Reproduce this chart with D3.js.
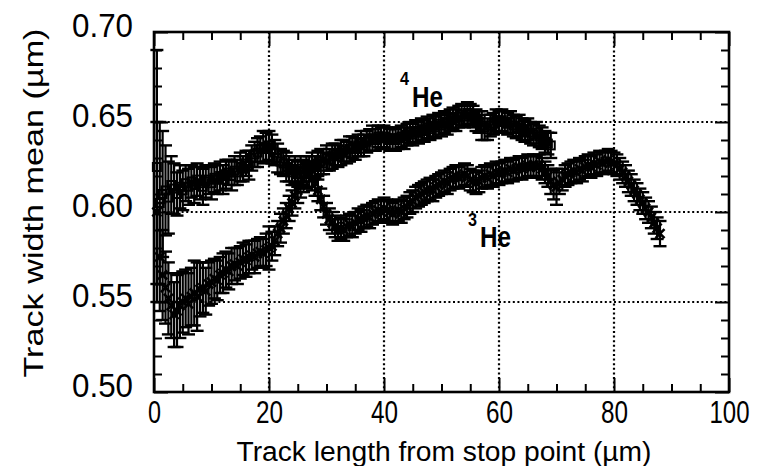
<!DOCTYPE html>
<html><head><meta charset="utf-8">
<script src="https://cdn.jsdelivr.net/npm/d3@7"></script>
<style>body{margin:0;background:#fff}svg{display:block}</style>
</head><body><svg id="c" width="770" height="466"></svg>
<script>
// ---- data ----
const trackLength = [0.5,1,1.5,2,2.5,3,3.5,4,4.5,5,5.5,6,6.5,7,7.5,8,8.5,9,9.5,10,
10.5,11,11.5,12,12.5,13,13.5,14,14.5,15,15.5,16,16.5,17,17.5,18,18.5,19,19.5,20,
20.5,21,21.5,22,22.5,23,23.5,24,24.5,25,25.5,26,26.5,27,27.5,28,28.5,29,29.5,30,
30.5,31,31.5,32,32.5,33,33.5,34,34.5,35,35.5,36,36.5,37,37.5,38,38.5,39,39.5,40,
40.5,41,41.5,42,42.5,43,43.5,44,44.5,45,45.5,46,46.5,47,47.5,48,48.5,49,49.5,50,
50.5,51,51.5,52,52.5,53,53.5,54,54.5,55,55.5,56,56.5,57,57.5,58,58.5,59,59.5,60,
60.5,61,61.5,62,62.5,63,63.5,64,64.5,65,65.5,66,66.5,67,67.5,68,68.5,69,69.5,70,
70.5,71,71.5,72,72.5,73,73.5,74,74.5,75,75.5,76,76.5,77,77.5,78,78.5,79,79.5,80,
80.5,81,81.5,82,82.5,83,83.5,84,84.5,85,85.5,86,86.5,87,87.5,88];

const he4Mean = [0.625,0.605,0.61,0.612,0.608,0.615,0.613,0.61,0.614,0.612,
0.616,0.614,0.617,0.615,0.618,0.616,0.614,0.617,0.618,0.616,
0.619,0.618,0.62,0.618,0.621,0.622,0.62,0.623,0.622,0.625,
0.624,0.627,0.626,0.63,0.632,0.633,0.635,0.636,0.636,0.637,
0.635,0.633,0.63,0.628,0.627,0.625,0.624,0.622,0.623,0.621,
0.624,0.622,0.625,0.624,0.626,0.625,0.627,0.628,0.627,0.63,
0.629,0.631,0.632,0.631,0.633,0.634,0.633,0.635,0.636,0.635,
0.637,0.638,0.637,0.639,0.64,0.641,0.64,0.642,0.641,0.642,
0.641,0.64,0.641,0.64,0.641,0.642,0.641,0.643,0.644,0.643,
0.645,0.644,0.646,0.645,0.647,0.646,0.648,0.647,0.649,0.648,
0.65,0.649,0.651,0.652,0.651,0.653,0.654,0.653,0.655,0.654,
0.653,0.651,0.65,0.648,0.647,0.646,0.648,0.649,0.651,0.65,
0.651,0.65,0.649,0.65,0.648,0.647,0.648,0.646,0.645,0.646,
0.644,0.643,0.644,0.642,0.641,0.639,0.638,0.637];

const he4Err = [0.065,0.045,0.035,0.025,0.02,0.016,0.014,0.012,0.012,0.011,
0.01,0.01,0.009,0.01,0.009,0.009,0.01,0.009,0.008,0.009,
0.008,0.008,0.008,0.008,0.008,0.007,0.008,0.008,0.007,0.008,
0.007,0.007,0.008,0.007,0.007,0.008,0.007,0.009,0.008,0.008,
0.008,0.007,0.008,0.007,0.007,0.008,0.007,0.007,0.008,0.007,
0.007,0.007,0.006,0.007,0.007,0.006,0.007,0.007,0.006,0.007,
0.006,0.007,0.006,0.006,0.007,0.006,0.006,0.007,0.006,0.006,
0.006,0.007,0.006,0.006,0.006,0.007,0.006,0.006,0.006,0.006,
0.006,0.006,0.006,0.006,0.006,0.006,0.006,0.006,0.006,0.006,
0.006,0.006,0.006,0.006,0.006,0.006,0.006,0.006,0.006,0.006,
0.006,0.006,0.006,0.006,0.006,0.006,0.006,0.006,0.006,0.006,
0.006,0.006,0.006,0.008,0.007,0.006,0.006,0.006,0.006,0.006,
0.006,0.006,0.006,0.006,0.006,0.006,0.006,0.006,0.006,0.006,
0.006,0.006,0.006,0.006,0.006,0.006,0.006,0.007];

const he3Mean = [0.60,0.575,0.565,0.558,0.552,0.548,0.543,0.545,0.548,0.55,
0.552,0.549,0.553,0.555,0.553,0.557,0.558,0.556,0.56,0.561,
0.563,0.562,0.565,0.566,0.568,0.567,0.57,0.571,0.57,0.572,
0.574,0.573,0.575,0.576,0.575,0.577,0.578,0.577,0.579,0.58,
0.581,0.584,0.588,0.591,0.595,0.598,0.602,0.605,0.609,0.612,
0.615,0.618,0.62,0.621,0.619,0.616,0.612,0.607,0.603,0.599,
0.596,0.594,0.592,0.59,0.591,0.59,0.592,0.593,0.592,0.594,
0.596,0.595,0.597,0.598,0.597,0.599,0.6,0.601,0.6,0.602,
0.601,0.6,0.599,0.6,0.601,0.6,0.602,0.603,0.605,0.606,
0.608,0.609,0.61,0.611,0.612,0.613,0.612,0.614,0.615,0.616,
0.617,0.616,0.618,0.619,0.62,0.619,0.62,0.621,0.62,0.618,
0.617,0.616,0.617,0.619,0.62,0.619,0.621,0.62,0.622,0.621,
0.622,0.623,0.622,0.624,0.623,0.624,0.625,0.624,0.625,0.626,
0.625,0.626,0.625,0.626,0.624,0.622,0.62,0.617,0.615,0.614,
0.616,0.618,0.62,0.621,0.622,0.623,0.622,0.624,0.623,0.625,
0.626,0.625,0.627,0.626,0.628,0.627,0.628,0.629,0.628,0.627,
0.626,0.624,0.622,0.62,0.617,0.615,0.612,0.61,0.607,0.605,
0.602,0.6,0.597,0.594,0.591,0.588];

const he3Err = [0.05,0.03,0.025,0.02,0.02,0.018,0.018,0.02,0.018,0.017,
0.016,0.017,0.016,0.018,0.019,0.015,0.014,0.013,0.012,0.012,
0.011,0.011,0.01,0.011,0.01,0.01,0.01,0.009,0.01,0.009,
0.009,0.009,0.009,0.008,0.009,0.008,0.008,0.008,0.009,0.012,
0.008,0.008,0.007,0.008,0.007,0.007,0.007,0.007,0.007,0.007,
0.007,0.007,0.007,0.007,0.007,0.007,0.006,0.006,0.006,0.006,
0.006,0.006,0.006,0.006,0.006,0.006,0.006,0.006,0.006,0.006,
0.006,0.006,0.006,0.006,0.006,0.006,0.006,0.006,0.006,0.006,
0.006,0.006,0.006,0.006,0.006,0.006,0.006,0.006,0.006,0.006,
0.006,0.006,0.006,0.006,0.006,0.006,0.006,0.006,0.006,0.006,
0.006,0.006,0.006,0.006,0.006,0.006,0.006,0.006,0.006,0.006,
0.006,0.006,0.006,0.006,0.006,0.006,0.006,0.006,0.006,0.006,
0.006,0.006,0.006,0.006,0.006,0.006,0.006,0.006,0.006,0.006,
0.006,0.006,0.006,0.006,0.006,0.006,0.006,0.007,0.008,0.01,
0.006,0.006,0.006,0.006,0.006,0.006,0.006,0.006,0.006,0.006,
0.006,0.006,0.006,0.006,0.006,0.006,0.006,0.006,0.006,0.006,
0.006,0.006,0.006,0.006,0.006,0.006,0.006,0.006,0.006,0.006,
0.006,0.006,0.006,0.006,0.006,0.007];

const xMajorTicks = [0,20,40,60,80,100];
const xMinorTicks = [5,10,15,25,30,35,45,50,55,65,70,75,85,90,95];
const yMajorTicks = [0.50,0.55,0.60,0.65,0.70];
const yTickLabels = ["0.50","0.55","0.60","0.65","0.70"];
const yMinorTicks = [0.51,0.52,0.53,0.54,0.56,0.57,0.58,0.59,0.61,0.62,0.63,0.64,0.66,0.67,0.68,0.69];
const gridX = [20,40,60,80];
const gridY = [0.55,0.60,0.65];
const xTitle = "Track length from stop point (\u00b5m)";
const yTitle = "Track width mean (\u00b5m)";

// ---- drawing ----
const svg = d3.select("#c");
const L=154,R=729,T=32,B=392;
const x = d3.scaleLinear().domain([0,100]).range([L,R]);
const y = d3.scaleLinear().domain([0.5,0.7]).range([B,T]);
const font = "'Liberation Sans', Arial, sans-serif";

const he4 = he4Mean.map((v,i)=>({x:trackLength[i],y:v,e:he4Err[i]}));
const he3 = he3Mean.map((v,i)=>({x:trackLength[i],y:v,e:he3Err[i]}));

// grid
const grid = svg.append("g").attr("stroke","#000").attr("stroke-width",2.2).attr("stroke-dasharray","2,2.6");
grid.selectAll(".gx").data(gridX).join("line").attr("x1",d=>x(d)).attr("x2",d=>x(d)).attr("y1",T).attr("y2",B);
grid.selectAll(".gy").data(gridY).join("line").attr("y1",d=>y(d)).attr("y2",d=>y(d)).attr("x1",L).attr("x2",R);

// axes ticks (inward)
function styleAxis(g){ g.select(".domain").remove(); g.selectAll(".tick line").attr("stroke","#000").attr("stroke-width",2); }
svg.append("g").attr("transform",`translate(0,${B})`).call(d3.axisBottom(x).tickValues(xMinorTicks).tickSize(-8).tickFormat("")).call(styleAxis);
svg.append("g").attr("transform",`translate(0,${T})`).call(d3.axisTop(x).tickValues(xMinorTicks).tickSize(-8).tickFormat("")).call(styleAxis);
svg.append("g").attr("transform",`translate(0,${T})`).call(d3.axisTop(x).tickValues(xMajorTicks).tickSize(-14).tickFormat("")).call(styleAxis);
const xb = svg.append("g").attr("transform",`translate(0,${B})`).call(d3.axisBottom(x).tickValues(xMajorTicks).tickSize(-14).tickPadding(31).tickFormat(d3.format("d"))).call(styleAxis);
xb.selectAll(".tick text").attr("font-family",font).attr("font-size",31).attr("fill","#000").attr("dy",0)
  .attr("textLength",d=>d===100?40:(d===0?13:27)).attr("lengthAdjust","spacingAndGlyphs");

svg.append("g").attr("transform",`translate(${L},0)`).call(d3.axisLeft(y).tickValues(yMinorTicks).tickSize(-8).tickFormat("")).call(styleAxis);
svg.append("g").attr("transform",`translate(${R},0)`).call(d3.axisRight(y).tickValues(yMinorTicks).tickSize(-8).tickFormat("")).call(styleAxis);
svg.append("g").attr("transform",`translate(${R},0)`).call(d3.axisRight(y).tickValues(yMajorTicks).tickSize(-14).tickFormat("")).call(styleAxis);
const yl = svg.append("g").attr("transform",`translate(${L},0)`).call(d3.axisLeft(y).tickValues(yMajorTicks).tickSize(-14).tickPadding(21).tickFormat((d,i)=>yTickLabels[i])).call(styleAxis);
yl.selectAll(".tick text").attr("font-family",font).attr("font-size",33).attr("fill","#000").attr("dy","0.15em")
  .attr("textLength",61).attr("lengthAdjust","spacingAndGlyphs");

// frame
svg.append("rect").attr("x",L).attr("y",T).attr("width",R-L).attr("height",B-T).attr("fill","none").attr("stroke","#000").attr("stroke-width",2.6);

// error bars
function errBars(data, cap){
  const g = svg.append("g").attr("stroke","#000");
  g.selectAll(".v").data(data).join("line").attr("x1",d=>x(d.x)).attr("x2",d=>x(d.x)).attr("y1",d=>y(d.y-d.e)).attr("y2",d=>y(d.y+d.e)).attr("stroke-width",2.2);
  g.selectAll(".t").data(data).join("line").attr("x1",d=>x(d.x)-cap).attr("x2",d=>x(d.x)+cap).attr("y1",d=>y(d.y+d.e)).attr("y2",d=>y(d.y+d.e)).attr("stroke-width",2.4);
  g.selectAll(".b").data(data).join("line").attr("x1",d=>x(d.x)-cap).attr("x2",d=>x(d.x)+cap).attr("y1",d=>y(d.y-d.e)).attr("y2",d=>y(d.y-d.e)).attr("stroke-width",2.4);
}
errBars(he4,6.5);
errBars(he3,6.5);

// markers
svg.append("g").selectAll("rect").data(he4).join("rect")
  .attr("x",d=>x(d.x)-4).attr("y",d=>y(d.y)-4).attr("width",8).attr("height",8)
  .attr("fill","none").attr("stroke","#000").attr("stroke-width",2);
const xm = svg.append("g").attr("stroke","#000").attr("stroke-width",2.6);
xm.selectAll(".a").data(he3).join("line").attr("x1",d=>x(d.x)-4.5).attr("x2",d=>x(d.x)+4.5).attr("y1",d=>y(d.y)-4.5).attr("y2",d=>y(d.y)+4.5);
xm.selectAll(".b").data(he3).join("line").attr("x1",d=>x(d.x)-4.5).attr("x2",d=>x(d.x)+4.5).attr("y1",d=>y(d.y)+4.5).attr("y2",d=>y(d.y)-4.5);

// series labels
function isoLabel(sup, px, py, supDy){
  const t = svg.append("g").attr("font-family",font).attr("font-weight","bold").attr("fill","#000");
  t.append("text").attr("x",px-12).attr("y",py-supDy).attr("font-size",19).attr("textLength",9).attr("lengthAdjust","spacingAndGlyphs").text(sup);
  t.append("text").attr("x",px).attr("y",py).attr("font-size",29).attr("textLength",31).attr("lengthAdjust","spacingAndGlyphs").text("He");
}
isoLabel("4",412,107,22);
isoLabel("3",480,247,21);

// titles
svg.append("text").attr("x",444).attr("y",461).attr("text-anchor","middle").attr("font-family",font).attr("font-size",27)
  .attr("textLength",415).attr("lengthAdjust","spacingAndGlyphs").text(xTitle);
svg.append("text").attr("transform","translate(43,203) rotate(-90)").attr("text-anchor","middle").attr("font-family",font).attr("font-size",27)
  .attr("textLength",349).attr("lengthAdjust","spacingAndGlyphs").text(yTitle);
</script></body></html>
